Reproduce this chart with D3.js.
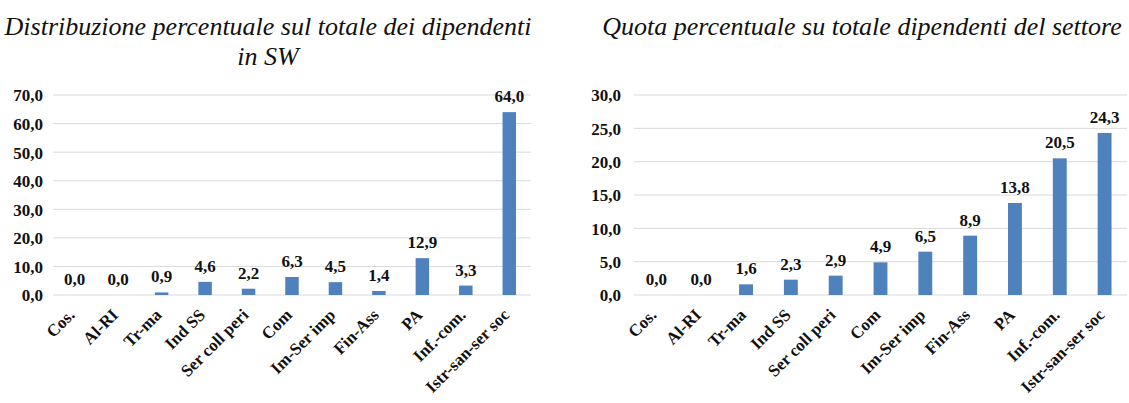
<!DOCTYPE html>
<html>
<head>
<meta charset="utf-8">
<script src="https://cdn.jsdelivr.net/npm/d3@7"></script>
<style>
  body { margin: 0; background: #fff; }
  svg { display: block; }
</style>
</head>
<body>
<div id="chart"></div>
<script>
const categories = ["Cos.", "Al-RI", "Tr-ma", "Ind SS", "Ser coll peri", "Com", "Im-Ser imp", "Fin-Ass", "PA", "Inf.-com.", "Istr-san-ser soc"];
const distribValues = [0.0, 0.0, 0.9, 4.6, 2.2, 6.3, 4.5, 1.4, 12.9, 3.3, 64.0];
const quotaValues = [0.0, 0.0, 1.6, 2.3, 2.9, 4.9, 6.5, 8.9, 13.8, 20.5, 24.3];
const distribTicks = [0, 10, 20, 30, 40, 50, 60, 70];
const quotaTicks = [0, 5, 10, 15, 20, 25, 30];
const distribTitle = ["Distribuzione percentuale sul totale dei dipendenti", "in SW"];
const quotaTitle = ["Quota percentuale su totale dipendenti del settore"];

const width = 1129;
const height = 403;
const serif = "Liberation Serif";
const fmt = v => v.toFixed(1).replace(".", ",");

const svg = d3.select("#chart").append("svg")
    .attr("width", width)
    .attr("height", height);

drawPanel({ x0: 53, x1: 531, titleX: 268, title: distribTitle, values: distribValues, ticks: distribTicks, labelX: 43 });
drawPanel({ x0: 634, x1: 1127, titleX: 862, title: quotaTitle, values: quotaValues, ticks: quotaTicks, labelX: 621 });

function drawPanel(p) {
    const g = svg.append("g");
    const top = 95, bottom = 295;

    const x = d3.scaleBand().domain(categories).range([p.x0, p.x1]).paddingInner(0.69).paddingOuter(0.345);
    const y = d3.scaleLinear().domain([0, d3.max(p.ticks)]).range([bottom, top]);

    g.selectAll(".title").data(p.title).enter().append("text")
        .attr("class", "title")
        .attr("x", p.titleX)
        .attr("y", (d, i) => 35 + i * 30)
        .attr("text-anchor", "middle")
        .attr("font-family", serif)
        .attr("font-style", "italic")
        .attr("font-size", 26)
        .attr("fill", "#111")
        .text(d => d);

    // gridlines
    g.selectAll(".grid").data(p.ticks).enter().append("line")
        .attr("x1", p.x0).attr("x2", p.x1)
        .attr("y1", d => y(d)).attr("y2", d => y(d))
        .attr("stroke", "#d9d9d9").attr("stroke-width", 1);

    const yAxis = g.append("g")
        .attr("transform", `translate(${p.labelX},0)`)
        .call(d3.axisLeft(y).tickValues(p.ticks).tickFormat(fmt).tickSize(0).tickPadding(0));
    yAxis.select(".domain").remove();
    yAxis.selectAll("text")
        .attr("dy", "0.35em")
        .attr("font-family", serif)
        .attr("font-weight", "bold")
        .attr("font-size", 17)
        .attr("fill", "#111");

    g.selectAll(".bar").data(p.values).enter().append("rect")
        .attr("x", (d, i) => x(categories[i]))
        .attr("width", x.bandwidth())
        .attr("y", d => y(d))
        .attr("height", d => bottom - y(d))
        .attr("fill", "#4F81BD");

    g.selectAll(".val").data(p.values).enter().append("text")
        .attr("class", "val")
        .attr("x", (d, i) => x(categories[i]) + x.bandwidth() / 2)
        .attr("y", d => y(d) - 10)
        .attr("text-anchor", "middle")
        .attr("font-family", serif)
        .attr("font-weight", "bold")
        .attr("font-size", 17)
        .attr("fill", "#111")
        .text(fmt);

    g.selectAll(".xlab").data(categories).enter().append("text")
        .attr("class", "xlab")
        .attr("text-anchor", "end")
        .attr("transform", d => `translate(${x(d) + x.bandwidth() / 2 + 1},${bottom + 21}) rotate(-45)`)
        .attr("font-family", serif)
        .attr("font-weight", "bold")
        .attr("font-size", 17)
        .attr("fill", "#111")
        .text(d => d);
}
</script>
</body>
</html>
